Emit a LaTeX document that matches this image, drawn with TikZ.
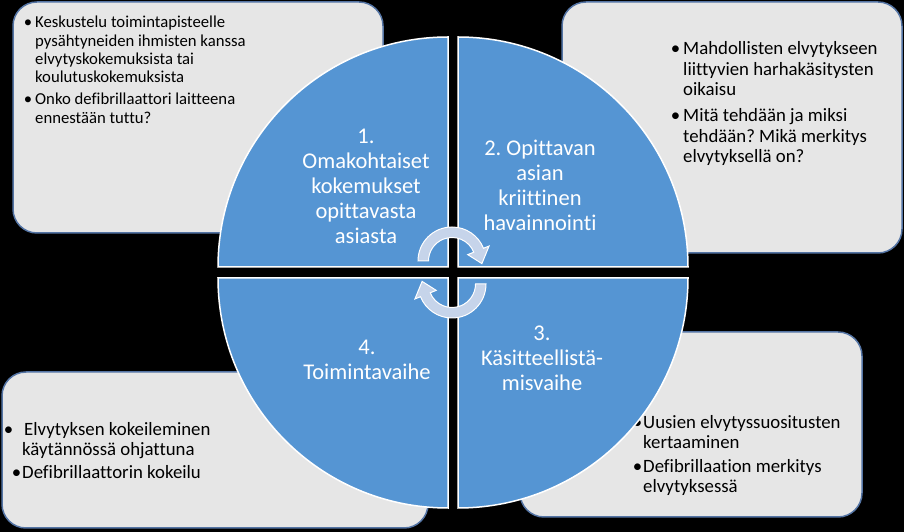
\documentclass[tikz,border=0pt]{standalone}
\usepackage{fontspec}
\setmainfont{Carlito}[Ligatures={NoCommon}]
\frenchspacing
\usetikzlibrary{positioning}

\definecolor{quadblue}{RGB}{85,149,211}
\definecolor{boxgray}{RGB}{230,230,230}
\definecolor{boxline}{RGB}{84,116,164}
\definecolor{arrowfill}{RGB}{198,212,234}

\tikzset{
  notebox/.style={fill=boxgray, draw=boxline, line width=1.5pt, rounded corners=24pt},
  quadrant/.style={fill=quadblue, draw=white, line width=1.5pt},
  cyclearrow/.style={fill=arrowfill, draw=white, line width=1pt},
  notetext/.style={anchor=base west, inner sep=0pt, text width=#1, align=flush left},
  smallnote/.style={font=\fontsize{16.7}{18.3}\selectfont},
  bignote/.style={font=\fontsize{18.8}{20.2}\selectfont},
  phase/.style={anchor=base, inner sep=0pt, text width=170pt, align=flush center, text=white,
    font=\fontsize{22.5}{25}\selectfont}
}

\begin{document}
\begin{tikzpicture}[x=1pt, y=1pt]
  \useasboundingbox (0,0) rectangle (904,532);
  \fill[black] (0,0) rectangle (904,532);

  % Note boxes
  \foreach \xa/\ya/\xb/\yb in {13/299/383/530, 562/279/902/530, 2/4/428/160, 520/15/862/200} {
    \draw[notebox] (\xa,\ya) rectangle (\xb,\yb);
  }

  % Notes
  \node[notetext=330pt, smallnote] (keskustelu) at (35,504)
    {\llap{\textbullet\hspace{3pt}}Keskustelu toimintapisteelle\\pysähtyneiden ihmisten kanssa\\elvytyskokemuksista tai\\koulutuskokemuksista};
  \node[notetext=330pt, smallnote] (onko) at (35,427)
    {\llap{\textbullet\hspace{3pt}}Onko defibrillaattori laitteena\\ennestään tuttu?};

  \node[notetext=210pt, bignote] (harhakasitykset) at (683,477)
    {\llap{\textbullet\hspace{3pt}}Mahdollisten elvytykseen\\liittyvien harhakäsitysten\\oikaisu};
  \node[notetext=210pt, bignote] (merkitys) at (683,410)
    {\llap{\textbullet\hspace{3pt}}Mitä tehdään ja miksi\\tehdään? Mikä merkitys\\elvytyksellä on?};

  \node[notetext=215pt, bignote] (suositukset) at (643,103.6)
    {\llap{\textbullet\hspace{1pt}}Uusien elvytyssuositusten\\kertaaminen};
  \node[notetext=215pt, bignote] (defibrillaatio) at (643,59.6)
    {\llap{\textbullet\hspace{1pt}}Defibrillaation merkitys\\elvytyksessä};

  \node[notetext=300pt, bignote] (kokeileminen) at (22,96.6)
    {\llap{\textbullet\hspace{9pt}}\hspace{2pt}Elvytyksen kokeileminen\\käytännössä ohjattuna};
  \node[notetext=300pt, bignote] (kokeilu) at (22,53.6)
    {\llap{\textbullet\hspace{1pt}}Defibrillaattorin kokeilu};

  % Quadrants
  \foreach \cx/\cy/\start in {448/265/90, 458/265/0, 448/254/180, 458/254/270} {
    \draw[quadrant] (\cx,\cy) -- ++(\start:230) arc (\start:\start+90:230) -- cycle;
  }

  % Phases
  \node[phase] (vaihe1) at (366,388) {1.\\Omakohtaiset\\kokemukset\\opittavasta\\asiasta};
  \node[phase] (vaihe2) at (540,376) {2. Opittavan\\asian\\kriittinen\\havainnointi};
  \node[phase] (vaihe3) at (542,191) {3.\\Käsitteellistä-\\misvaihe};
  \node[phase] (vaihe4) at (367,177) {4.\\Toimintavaihe};

  % Cycle arrows
  \foreach \cx/\cy/\turn in {452/271/0, 452/248/180} {
    \begin{scope}[shift={(\cx,\cy)}, rotate=\turn]
      \draw[cyclearrow] (180:34) arc (180:22:34) -- (22:40) -- (-5:30) -- (22:17)
        -- (22:23.5) arc (22:180:23.5) -- cycle;
    \end{scope}
  }
\end{tikzpicture}
\end{document}
